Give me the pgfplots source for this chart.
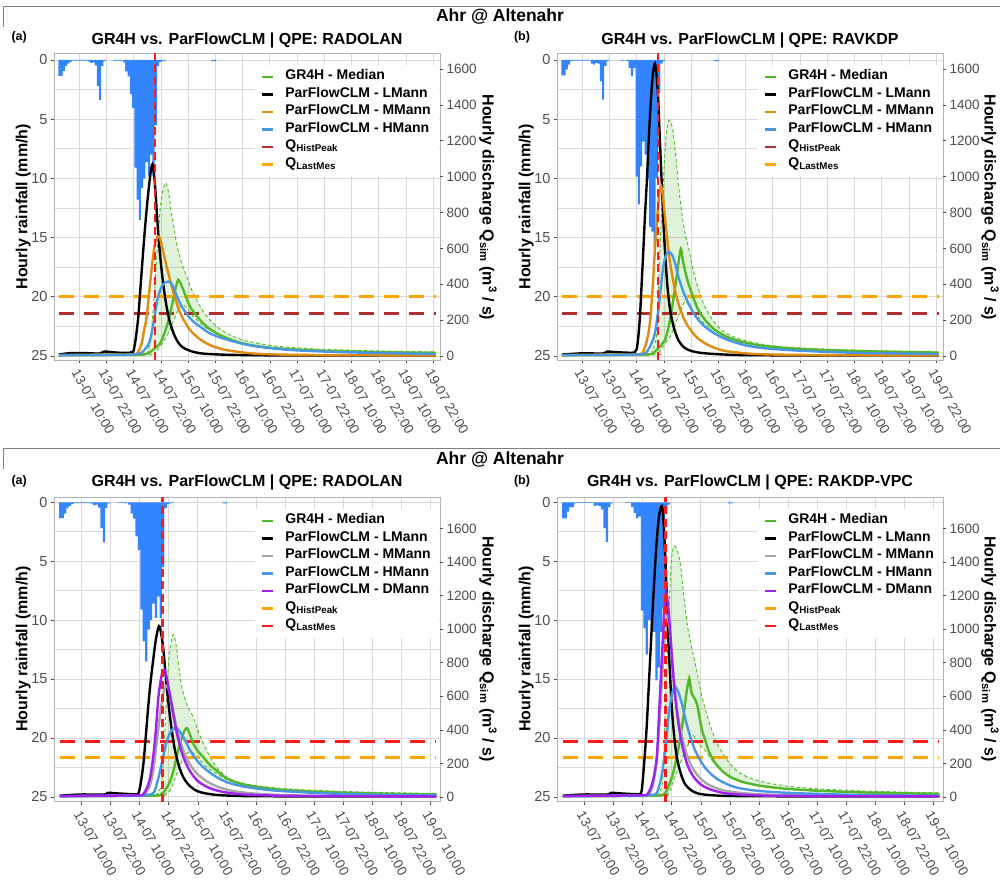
\documentclass[border=0pt]{standalone}
\usepackage{fontspec}
\setmainfont{Liberation Sans}
\usepackage{pgfplots}
\pgfplotsset{compat=1.18}
\definecolor{rainblue}{HTML}{3385FF}
\definecolor{gmed}{HTML}{52B82A}
\definecolor{mmorange}{HTML}{E08A10}
\definecolor{hmblue}{HTML}{4B96E3}
\definecolor{histbrown}{HTML}{B03030}
\definecolor{lastorange}{HTML}{FFA500}
\definecolor{vred}{HTML}{FF1A1A}
\definecolor{dpurple}{HTML}{A020F0}
\definecolor{mgrey}{HTML}{A6A6A6}
\definecolor{gridgray}{HTML}{D9D9D9}
\definecolor{bordergray}{HTML}{B3B3B3}
\definecolor{ticktext}{HTML}{4D4D4D}
\newcommand\tickfont{\fontsize{14.5}{16}\selectfont}
\newcommand\rtickfont{\fontsize{13.5}{15}\selectfont}
\newcommand\xtickfont{\fontsize{13.5}{15}\selectfont}
\newcommand\legfont{\fontsize{14}{16}\selectfont\bfseries}
\newcommand\labfont{\fontsize{16}{18}\selectfont\bfseries}
\pgfplotsset{
 rainaxis/.style={scale only axis, width=386pt, y dir=reverse,
   axis line style={draw=bordergray, line width=0.8pt},
   xmajorgrids, ymajorgrids, yminorgrids,
   major grid style={draw=gridgray, line width=0.9pt},
   minor grid style={draw=gridgray, line width=0.6pt},
   ytick={0,5,10,15,20,25}, minor ytick={2.5,7.5,12.5,17.5,22.5},
   tick align=outside, major tick length=3pt, minor tick length=0pt,
   major tick style={draw=ticktext, line width=0.6pt},
   xtick pos=left, ytick pos=left,
   yticklabel style={font=\tickfont, text=ticktext},
   xticklabel style={font=\xtickfont, text=ticktext, rotate=-60, anchor=north west, inner sep=0pt},
   xticklabel shift=5pt,
   /pgf/number format/assume math mode=true,
 },
 qaxis/.style={scale only axis, width=386pt, hide x axis, ytick pos=right,
   axis line style={draw=none},
   tick align=outside, major tick length=3pt,
   major tick style={draw=ticktext, line width=0.6pt},
   ytick={0,200,...,1600},
   yticklabel style={font=\rtickfont, text=ticktext, /pgf/number format/1000 sep={}},
   /pgf/number format/assume math mode=true,
   legend cell align=left,
   legend image code/.code={\draw[##1, solid, line width=2.6pt] (0pt,0pt) -- (11pt,0pt);},
   legend style={at={(rel axis cs:1,1)}, anchor=north east, xshift=-1pt, yshift=-12pt, fill=white, draw=none,
     inner xsep=6pt, inner ysep=3pt, row sep=0pt, font=\legfont,
     nodes={text height=9.5pt, text depth=4pt, inner ysep=2pt},
     /tikz/every odd column/.append style={column sep=9pt}},
 },
 curve/.style={line width=2.4pt, smooth, tension=0.5, forget plot},
 bound/.style={gmed, line width=0.9pt, dash pattern=on 3.5pt off 2.5pt, smooth, tension=0.5, forget plot},
 ribbon/.style={fill=gmed, fill opacity=0.18, draw=none, smooth, tension=0.5, forget plot},
 hl/.style={line width=2.8pt, dash pattern=on 15pt off 10pt, forget plot},
 vl/.style={vred, line width=2.5pt, dash pattern=on 8pt off 4.5pt, forget plot},
 bars/.style={ybar, bar width=0.92, fill=rainblue, draw=none},
}
\begin{document}
\begin{tikzpicture}
\useasboundingbox (0pt,0pt) rectangle (1000pt,-882pt);
% frames and main titles
\draw[gray, line width=0.8pt] (3pt,-27pt) -- (3pt,-6pt) -- (1000pt,-6pt);
\draw[gray, line width=0.8pt] (3pt,-469pt) -- (3pt,-448pt) -- (1000pt,-448pt);
\node[font=\fontsize{17.5}{20}\selectfont\bfseries] at (500pt,-17pt) {Ahr @ Altenahr};
\node[font=\fontsize{17.5}{20}\selectfont\bfseries] at (500pt,-460pt) {Ahr @ Altenahr};

% ================= TOP LEFT =================
\begin{axis}[rainaxis, at={(54pt,-360pt)}, anchor=south west, height=307pt,
  xmin=-1.15, xmax=168.95, ymin=-0.59, ymax=25.34,
  xtick={10,22,...,166},
  xticklabels={13-07 10:00,13-07 22:00,14-07 10:00,14-07 22:00,15-07 10:00,15-07 22:00,16-07 10:00,16-07 22:00,17-07 10:00,17-07 22:00,18-07 10:00,18-07 22:00,19-07 10:00,19-07 22:00}]
\addplot[bars] coordinates {(1.2,1.35) (2.2,1.35) (3.2,0.95) (4.2,0.5) (5.2,0.3) (6.2,0.15) (7.2,0.06) (8.2,0.06) (9.2,0.06) (10.2,0.06) (11.2,0.06) (12.2,0.06) (13.2,0.06) (14.2,0.12) (15.2,0.25) (16.2,0.2) (17.2,0.45) (18.2,2.2) (19.2,3.4) (20.2,0.5) (21.2,0.1) (25.2,0.05) (26.2,0.05) (27.2,0.05) (28.2,0.1) (29.7,0.2) (30.7,0.96) (31.7,1.38) (32.7,2.9) (33.7,4.05) (34.7,9.1) (35.7,11.8) (36.7,13.5) (37.7,10.8) (38.7,10.0) (39.7,8.6) (40.7,9.8) (41.7,8.0) (42.7,9.8) (43.7,5.5) (44.7,0.5) (45.7,0.15) (46.7,0.1) (47.7,0.05) (68.7,0.1) (69.7,0.1)};
\end{axis}
\begin{axis}[qaxis, at={(54pt,-360pt)}, anchor=south west, height=307pt,
  xmin=-1.15, xmax=168.95, ymin=-22.3, ymax=1689]
\addplot[ribbon] coordinates {(1,5) (38,10) (40,30) (41.2,71) (42.3,220) (43.4,406) (44.5,620) (45.6,816) (46.8,920) (48.2,965) (49.5,900) (50.5,800) (51.4,741) (53,620) (55.1,518) (57.3,443) (59.5,370) (61.7,313) (64.5,250) (67.6,201) (72,150) (77.9,108) (85,80) (95,58) (110,42) (130,32) (150,26) (167,23) (167,12) (130,22) (105,35) (90,52) (82.3,71) (76,95) (70.5,127) (66,155) (61.7,201) (59.5,230) (57.5,265) (55.8,285) (54.5,275) (52.9,238) (50.5,165) (48.5,108) (47,80) (45.6,52) (43,15) (40,6) (1,3)} -- cycle;
\addplot[bound] coordinates {(1,5) (38,10) (40,30) (41.2,71) (42.3,220) (43.4,406) (44.5,620) (45.6,816) (46.8,920) (48.2,965) (49.5,900) (50.5,800) (51.4,741) (53,620) (55.1,518) (57.3,443) (59.5,370) (61.7,313) (64.5,250) (67.6,201) (72,150) (77.9,108) (85,80) (95,58) (110,42) (130,32) (150,26) (167,23)};
\addplot[bound] coordinates {(1,3) (40,6) (43,15) (45.6,52) (47,80) (48.5,108) (50.5,165) (52.9,238) (54.5,275) (55.8,285) (57.5,265) (59.5,230) (61.7,201) (66,155) (70.5,127) (76,95) (82.3,71) (90,52) (105,35) (130,22) (167,12)};
\addplot[hl, lastorange] coordinates {(1.2,332) (167,332)};
\addplot[hl, histbrown] coordinates {(1.2,238) (167,238)};
\addplot[curve, gmed] coordinates {(1,4) (30,6) (38,8) (41,20) (43,40) (45.6,71) (47,110) (48.5,164) (49.6,215) (50.7,275) (51.7,335) (52.6,387) (53.6,425) (54.6,405) (55.8,369) (57.3,320) (58.8,275) (61,235) (63.2,201) (66.5,160) (70.5,127) (75,100) (79.4,80) (85,62) (95,45) (110,33) (130,25) (150,20) (167,17)};
\addplot[curve, black] coordinates {(1,8) (5,15) (10,17) (15,15) (19,14) (21,25) (24,22) (28,18) (32,18) (33.3,22) (34,32) (35,110) (36,220) (37,390) (38,560) (39,720) (40,860) (41,980) (41.7,1045) (42.2,1067) (42.8,1030) (43.5,930) (44.2,790) (45,650) (46,510) (47,400) (48,310) (49,240) (50,185) (52,112) (54,68) (56,45) (60,24) (65,13) (75,7) (90,4) (120,3) (167,3)};
\addplot[curve, mmorange] coordinates {(1,5) (20,8) (34,10) (36,25) (37.5,70) (38.5,140) (39.7,220) (41,380) (42,500) (43,600) (44,655) (44.8,667) (45.7,650) (47,580) (48.5,499) (50.5,400) (52.9,294) (55,225) (58.8,145) (63,95) (67.6,61) (73,38) (79.4,24) (90,11) (110,6) (140,4) (167,3)};
\addplot[curve, hmblue] coordinates {(1,5) (30,7) (36,12) (38,25) (40,55) (41.2,89) (42.5,170) (44.1,294) (45.2,350) (46.3,387) (47.8,410) (49.2,415) (50.8,400) (52.5,350) (54.4,294) (57,240) (60,195) (63.2,164) (67,130) (71,108) (76,88) (82,68) (90,50) (105,32) (130,20) (167,11)};
\addplot[vl] coordinates {(43.4,-22.3) (43.4,1689)};
\addlegendimage{gmed}\addlegendentry{GR4H - Median}
\addlegendimage{black}\addlegendentry{ParFlowCLM - LMann}
\addlegendimage{mmorange}\addlegendentry{ParFlowCLM - MMann}
\addlegendimage{hmblue}\addlegendentry{ParFlowCLM - HMann}
\addlegendimage{histbrown}\addlegendentry{Q\textsubscript{HistPeak}}
\addlegendimage{lastorange}\addlegendentry{Q\textsubscript{LastMes}}
\end{axis}

% ================= TOP RIGHT =================
\begin{axis}[rainaxis, at={(557pt,-360pt)}, anchor=south west, height=307pt,
  xmin=-1.15, xmax=168.95, ymin=-0.59, ymax=25.34,
  xtick={10,22,...,166},
  xticklabels={13-07 10:00,13-07 22:00,14-07 10:00,14-07 22:00,15-07 10:00,15-07 22:00,16-07 10:00,16-07 22:00,17-07 10:00,17-07 22:00,18-07 10:00,18-07 22:00,19-07 10:00,19-07 22:00}]
\addplot[bars] coordinates {(1.2,1.3) (2.2,1.3) (3.2,0.8) (4.2,0.4) (5.2,0.1) (6.2,0.05) (7.2,0.05) (8.2,0.05) (9.2,0.05) (10.2,0.05) (11.2,0.05) (12.2,0.05) (13.2,0.05) (14.2,0.3) (15.2,0.4) (16.2,0.25) (17.2,0.3) (18.2,1.8) (19.2,3.35) (20.2,0.5) (21.2,0.1) (27.2,0.05) (28.2,0.05) (29.9,0.1) (30.9,0.66) (31.9,1.37) (32.9,0.66) (33.9,9.85) (34.9,12.2) (35.9,9.0) (36.9,6.9) (37.9,8.0) (38.9,10.1) (39.9,14.1) (40.9,14.5) (41.9,15.8) (42.9,10.0) (43.9,2.8) (44.9,0.3) (45.9,0.1) (68.7,0.1) (69.7,0.1)};
\end{axis}
\begin{axis}[qaxis, at={(557pt,-360pt)}, anchor=south west, height=307pt,
  xmin=-1.15, xmax=168.95, ymin=-22.3, ymax=1689]
\addplot[ribbon] coordinates {(1,5) (38,10) (40.5,30) (42,70) (42.8,127) (43.5,330) (44.2,592) (45,800) (45.7,965) (46.3,1110) (46.9,1225) (47.6,1290) (48.3,1315) (49.2,1295) (50.1,1244) (51.2,1110) (52.3,965) (53.4,840) (54.5,741) (55.6,665) (56.7,611) (58,530) (59.6,443) (61.8,350) (64,275) (67.5,200) (71.4,145) (76,110) (82,85) (90,64) (100,50) (120,36) (145,28) (167,23) (167,12) (130,20) (105,32) (90,46) (80,65) (74,92) (68.5,127) (64.5,170) (61,220) (58.5,255) (56.5,290) (55.3,303) (53.8,270) (52.3,220) (50.5,160) (48.7,108) (46.3,65) (44,25) (42,6) (1,3)} -- cycle;
\addplot[bound] coordinates {(1,5) (38,10) (40.5,30) (42,70) (42.8,127) (43.5,330) (44.2,592) (45,800) (45.7,965) (46.3,1110) (46.9,1225) (47.6,1290) (48.3,1315) (49.2,1295) (50.1,1244) (51.2,1110) (52.3,965) (53.4,840) (54.5,741) (55.6,665) (56.7,611) (58,530) (59.6,443) (61.8,350) (64,275) (67.5,200) (71.4,145) (76,110) (82,85) (90,64) (100,50) (120,36) (145,28) (167,23)};
\addplot[bound] coordinates {(1,3) (42,6) (44,25) (46.3,65) (48.7,108) (50.5,160) (52.3,220) (53.8,270) (55.3,303) (56.5,290) (58.5,255) (61,220) (64.5,170) (68.5,127) (74,92) (80,65) (90,46) (105,32) (130,20) (167,12)};
\addplot[hl, lastorange] coordinates {(1.2,332) (167,332)};
\addplot[hl, histbrown] coordinates {(1.2,238) (167,238)};
\addplot[curve, gmed] coordinates {(1,4) (30,6) (40,10) (42,25) (44,50) (46.4,89) (48,160) (49.4,257) (50.5,350) (51.6,443) (52.5,530) (53.4,598) (54,560) (54.5,518) (55.6,460) (56.7,406) (58.8,330) (61.1,257) (64.5,195) (68.5,145) (74,105) (80,80) (88,60) (100,44) (120,32) (145,24) (167,19)};
\addplot[curve, black] coordinates {(1,8) (10,15) (19,14) (21,25) (24,22) (32,18) (33.3,25) (34,40) (34.7,110) (35.4,220) (36.1,390) (36.9,592) (37.6,780) (38.4,965) (39.1,1160) (39.8,1337) (40.4,1460) (41,1560) (41.5,1610) (42,1630) (42.5,1590) (43,1520) (43.5,1420) (44.2,1200) (45,965) (45.7,760) (46.4,592) (47.5,390) (48.7,257) (50.3,160) (52.3,89) (54.5,52) (56.7,34) (60,22) (65,14) (75,7) (90,4) (167,3)};
\addplot[curve, mmorange] coordinates {(1,5) (20,8) (35,10) (37,30) (38.5,90) (39.8,183) (41,380) (42,592) (42.8,740) (43.5,853) (44.1,920) (44.7,946) (45.4,900) (46.4,778) (47.5,640) (48.7,518) (50.5,390) (52.3,294) (54.5,215) (56.7,164) (60,110) (64,71) (69,42) (74,26) (85,12) (100,7) (130,4) (167,3)};
\addplot[curve, hmblue] coordinates {(1,5) (30,7) (37,12) (38.5,25) (40.5,70) (42,127) (43.2,230) (44.2,331) (45,430) (45.7,499) (46.8,560) (48.2,580) (49.7,560) (51,510) (52.3,443) (54.5,360) (56.7,294) (60,220) (64,164) (69,120) (74.3,89) (80,66) (86,50) (95,38) (110,27) (130,18) (167,11)};
\addplot[vl] coordinates {(43.4,-22.3) (43.4,1689)};
\addlegendimage{gmed}\addlegendentry{GR4H - Median}
\addlegendimage{black}\addlegendentry{ParFlowCLM - LMann}
\addlegendimage{mmorange}\addlegendentry{ParFlowCLM - MMann}
\addlegendimage{hmblue}\addlegendentry{ParFlowCLM - HMann}
\addlegendimage{histbrown}\addlegendentry{Q\textsubscript{HistPeak}}
\addlegendimage{lastorange}\addlegendentry{Q\textsubscript{LastMes}}
\end{axis}

% ================= BOTTOM LEFT =================
\begin{axis}[rainaxis, at={(54pt,-801.5pt)}, anchor=south west, height=304.5pt,
  xmin=-1.4, xmax=158, ymin=-0.45, ymax=25.39,
  xtick={10,22,...,154},
  xticklabels={13-07 10:00,13-07 22:00,14-07 10:00,14-07 22:00,15-07 10:00,15-07 22:00,16-07 10:00,16-07 22:00,17-07 10:00,17-07 22:00,18-07 10:00,18-07 22:00,19-07 10:00}]
\addplot[bars] coordinates {(1.2,1.35) (2.2,1.35) (3.2,0.95) (4.2,0.5) (5.2,0.3) (6.2,0.15) (7.2,0.06) (8.2,0.06) (9.2,0.06) (10.2,0.06) (11.2,0.06) (12.2,0.06) (13.2,0.06) (14.2,0.12) (15.2,0.25) (16.2,0.2) (17.2,0.45) (18.2,2.2) (19.2,3.4) (20.2,0.5) (21.2,0.1) (25.2,0.05) (26.2,0.05) (27.2,0.05) (28.2,0.1) (29.7,0.2) (30.7,0.96) (31.7,1.38) (32.7,2.9) (33.7,4.05) (34.7,9.1) (35.7,11.8) (36.7,13.5) (37.7,10.8) (38.7,10.0) (39.7,8.6) (40.7,9.8) (41.7,8.0) (42.7,9.8) (43.7,5.5) (44.7,0.5) (45.7,0.15) (46.7,0.1) (47.7,0.05) (68.7,0.1) (69.7,0.1)};
\end{axis}
\begin{axis}[qaxis, at={(54pt,-801.5pt)}, anchor=south west, height=304.5pt,
  xmin=-1.4, xmax=158, ymin=-27, ymax=1787]
\addplot[ribbon] coordinates {(1,5) (38,10) (41,25) (42.3,45) (43.1,76) (43.8,250) (44.5,435) (45.2,620) (45.9,793) (46.9,920) (48,968) (49.3,880) (50.7,713) (52,620) (53.4,554) (54.8,510) (56.2,474) (58.2,390) (60.4,315) (63,240) (65.9,175) (70,118) (75,88) (80,72) (89,56) (100,44) (120,32) (140,25) (156.5,21) (156.5,11) (120,21) (100,34) (85,52) (76,75) (70,105) (66,135) (62,175) (59.5,210) (57,250) (55.5,268) (54,265) (52.1,235) (49.2,135) (46.6,40) (44.5,20) (42,6) (1,3)} -- cycle;
\addplot[bound] coordinates {(1,5) (38,10) (41,25) (42.3,45) (43.1,76) (43.8,250) (44.5,435) (45.2,620) (45.9,793) (46.9,920) (48,968) (49.3,880) (50.7,713) (52,620) (53.4,554) (54.8,510) (56.2,474) (58.2,390) (60.4,315) (63,240) (65.9,175) (70,118) (75,88) (80,72) (89,56) (100,44) (120,32) (140,25) (156.5,21)};
\addplot[bound] coordinates {(1,3) (42,6) (44.5,20) (46.6,40) (49.2,135) (52.1,235) (54,265) (55.5,268) (57,250) (59.5,210) (62,175) (66,135) (70,105) (76,75) (85,52) (100,34) (120,21) (156.5,11)};
\addplot[hl, vred] coordinates {(1,332) (156.5,332)};
\addplot[hl, lastorange] coordinates {(1,236) (156.5,236)};
\addplot[curve, gmed] coordinates {(1,4) (30,6) (40,8) (42.4,12) (44.5,40) (46.6,96) (48,160) (49.2,235) (50.3,300) (51.4,354) (52.5,395) (53.5,410) (54.8,370) (56.2,315) (58.2,270) (60.4,235) (63,190) (65.9,155) (70,110) (75,82) (80,66) (89,48) (100,36) (120,25) (140,18) (156.5,15)};
\addplot[curve, black] coordinates {(1,8) (10,15) (19,14) (21,25) (24,22) (32,16) (33.4,20) (34.4,80) (35.5,195) (36.5,360) (37.6,554) (38.6,700) (39.7,833) (40.8,950) (42,1018) (42.9,970) (43.8,873) (44.8,710) (45.9,554) (47.2,400) (48.6,275) (50.3,180) (52.1,115) (54.5,68) (57.6,36) (61,22) (66,12) (75,6) (90,4) (156.5,3)};
\addplot[curve, mgrey] coordinates {(1,5) (34,10) (36,18) (38,60) (39.5,150) (41,320) (42.3,480) (43.5,600) (44.4,650) (45.2,663) (46.2,630) (47.5,540) (49,430) (50.5,340) (52.3,265) (54.5,200) (57.6,140) (61.5,95) (66,62) (71,40) (77,26) (90,13) (110,7) (156.5,4)};
\addplot[curve, hmblue] coordinates {(1,5) (30,7) (37,12) (39.7,25) (41,75) (42.4,155) (43.5,230) (44.5,295) (45.5,345) (46.6,384) (47.8,405) (49.1,410) (50.5,390) (52.1,354) (53.5,315) (54.9,275) (57.5,220) (60.4,175) (65,125) (70,88) (75,68) (80,55) (90,38) (110,22) (130,14) (156.5,9)};
\addplot[curve, dpurple] coordinates {(1,5) (20,8) (34,10) (35.5,18) (37,55) (38.3,115) (39.4,220) (40.4,354) (41.1,480) (41.7,594) (42.5,680) (43.3,740) (44.2,759) (45.3,700) (46.6,594) (48,480) (49.4,375) (50.8,295) (52.1,235) (54.5,160) (57.6,100) (61.5,62) (66,38) (71,24) (77,15) (90,8) (110,5) (156.5,3)};
\addplot[vl] coordinates {(43.4,-27) (43.4,1787)};
\addlegendimage{gmed}\addlegendentry{GR4H - Median}
\addlegendimage{black}\addlegendentry{ParFlowCLM - LMann}
\addlegendimage{mgrey}\addlegendentry{ParFlowCLM - MMann}
\addlegendimage{hmblue}\addlegendentry{ParFlowCLM - HMann}
\addlegendimage{dpurple}\addlegendentry{ParFlowCLM - DMann}
\addlegendimage{lastorange}\addlegendentry{Q\textsubscript{HistPeak}}
\addlegendimage{vred}\addlegendentry{Q\textsubscript{LastMes}}
\end{axis}

% ================= BOTTOM RIGHT =================
\begin{axis}[rainaxis, at={(557pt,-801.5pt)}, anchor=south west, height=304.5pt,
  xmin=-1.4, xmax=158, ymin=-0.45, ymax=25.39,
  xtick={10,22,...,154},
  xticklabels={13-07 10:00,13-07 22:00,14-07 10:00,14-07 22:00,15-07 10:00,15-07 22:00,16-07 10:00,16-07 22:00,17-07 10:00,17-07 22:00,18-07 10:00,18-07 22:00,19-07 10:00}]
\addplot[bars] coordinates {(1.2,1.36) (2.2,1.36) (3.2,0.8) (4.2,0.4) (5.2,0.4) (6.2,0.1) (7.2,0.05) (8.2,0.05) (9.2,0.05) (10.2,0.05) (11.2,0.05) (12.2,0.05) (13.2,0.05) (14.2,0.3) (15.2,0.25) (16.2,0.3) (17.2,0.6) (18.2,2.2) (19.2,3.35) (20.2,0.4) (21.2,0.1) (27.2,0.05) (28.2,0.05) (29.7,0.4) (30.7,0.9) (31.7,1.36) (32.7,1.2) (33.7,9.2) (34.7,10.7) (35.7,12.9) (36.7,10.0) (37.7,10.7) (38.7,11.0) (39.7,15.1) (40.7,14.0) (41.7,11.0) (42.7,9.0) (43.7,1.0) (44.7,0.2) (69.7,0.1) (70.7,0.1)};
\end{axis}
\begin{axis}[qaxis, at={(557pt,-801.5pt)}, anchor=south west, height=304.5pt,
  xmin=-1.4, xmax=158, ymin=-27, ymax=1787]
\addplot[ribbon] coordinates {(1,5) (38,10) (40.5,25) (42,70) (42.7,250) (43.3,534) (44,800) (44.6,1032) (45.2,1230) (45.7,1391) (46.4,1470) (47.1,1496) (48.3,1470) (49.5,1391) (50.5,1260) (51.5,1131) (52.5,1020) (53.6,932) (54.7,860) (55.7,793) (57,700) (58.5,594) (60.5,490) (62.6,395) (65,310) (68.1,235) (71.5,175) (75,135) (82,95) (92,68) (105,50) (125,36) (145,28) (156.5,25) (156.5,14) (125,24) (105,36) (90,52) (80,75) (72,110) (68,145) (65,180) (62,230) (59.5,280) (57.5,310) (56,330) (55,365) (54,345) (52.9,315) (50.8,250) (48.8,175) (46.8,100) (45,30) (44,20) (42,6) (1,3)} -- cycle;
\addplot[bound] coordinates {(1,5) (38,10) (40.5,25) (42,70) (42.7,250) (43.3,534) (44,800) (44.6,1032) (45.2,1230) (45.7,1391) (46.4,1470) (47.1,1496) (48.3,1470) (49.5,1391) (50.5,1260) (51.5,1131) (52.5,1020) (53.6,932) (54.7,860) (55.7,793) (57,700) (58.5,594) (60.5,490) (62.6,395) (65,310) (68.1,235) (71.5,175) (75,135) (82,95) (92,68) (105,50) (125,36) (145,28) (156.5,25)};
\addplot[bound] coordinates {(1,3) (42,6) (44,20) (45,30) (46.8,100) (48.8,175) (50.8,250) (52.9,315) (54,345) (55,365) (56,330) (57.5,310) (59.5,280) (62,230) (65,180) (68,145) (72,110) (80,75) (90,52) (105,36) (125,24) (156.5,14)};
\addplot[hl, vred] coordinates {(1,332) (156.5,332)};
\addplot[hl, lastorange] coordinates {(1,236) (156.5,236)};
\addplot[curve, gmed, tension=0.3] coordinates {(1,4) (30,6) (40,8) (42.4,12) (44,40) (46,115) (47.5,200) (48.8,295) (50,400) (50.8,474) (51.5,560) (52.2,634) (53.2,707) (53.8,650) (54.3,614) (55.3,590) (56.4,554) (57.5,470) (58.5,395) (60,330) (61.2,275) (63.5,210) (66.8,155) (70,120) (75,90) (82,68) (92,50) (105,38) (125,27) (145,21) (156.5,19)};
\addplot[curve, black] coordinates {(1,8) (10,15) (19,14) (21,25) (24,22) (32,16) (33,20) (33.6,40) (34.3,150) (35,280) (35.7,435) (36.7,720) (37.8,1032) (38.8,1300) (39.8,1530) (40.8,1680) (41.9,1733) (42.6,1640) (43.3,1430) (44,1170) (44.6,932) (45.3,720) (46,534) (47,360) (48.1,235) (49.7,140) (51.5,76) (54,40) (57,20) (62,11) (70,6) (90,4) (156.5,3)};
\addplot[curve, mgrey] coordinates {(1,5) (34,10) (36.5,18) (38,60) (39.3,160) (40.5,350) (41.5,580) (42.5,820) (43.4,1010) (44.2,1080) (45,1020) (46,850) (47.2,660) (48.6,480) (50.2,360) (52,260) (54.3,180) (57.5,115) (61,75) (66,45) (72,28) (85,14) (110,7) (156.5,4)};
\addplot[curve, hmblue] coordinates {(1,5) (30,7) (37,12) (39.5,18) (40.7,60) (41.9,135) (43,250) (44,375) (44.6,470) (45.3,554) (46.3,625) (47.4,657) (48.7,625) (50.2,554) (51.5,470) (52.9,395) (55,300) (57.1,235) (60,170) (64,115) (69,75) (74,52) (82,36) (95,24) (115,15) (135,10) (156.5,8)};
\addplot[curve, dpurple] coordinates {(1,5) (20,8) (34,10) (36,18) (37.5,60) (38.7,130) (39.8,235) (40.5,420) (41.2,634) (41.9,830) (42.6,1032) (43.2,1170) (43.7,1221) (44.4,1150) (45.3,992) (46.3,780) (47.4,594) (48.8,430) (50.2,315) (52,210) (54.3,135) (57.5,80) (61,50) (66,28) (72,16) (85,8) (110,5) (156.5,3)};
\addplot[vl] coordinates {(43.3,-27) (43.3,1787)};
\addlegendimage{gmed}\addlegendentry{GR4H - Median}
\addlegendimage{black}\addlegendentry{ParFlowCLM - LMann}
\addlegendimage{mgrey}\addlegendentry{ParFlowCLM - MMann}
\addlegendimage{hmblue}\addlegendentry{ParFlowCLM - HMann}
\addlegendimage{dpurple}\addlegendentry{ParFlowCLM - DMann}
\addlegendimage{lastorange}\addlegendentry{Q\textsubscript{HistPeak}}
\addlegendimage{vred}\addlegendentry{Q\textsubscript{LastMes}}
\end{axis}

% ================= labels =================
\node[font=\fontsize{12.5}{14}\selectfont\bfseries] at (19.2pt,-37.5pt) {(a)};
\node[font=\fontsize{12.5}{14}\selectfont\bfseries] at (522pt,-37.5pt) {(b)};
\node[font=\fontsize{12.5}{14}\selectfont\bfseries] at (19.2pt,-481pt) {(a)};
\node[font=\fontsize{12.5}{14}\selectfont\bfseries] at (522pt,-481pt) {(b)};
\node[font=\labfont] at (247pt,-40pt) {GR4H vs. ParFlowCLM | QPE: RADOLAN};
\node[font=\labfont] at (750pt,-40pt) {GR4H vs. ParFlowCLM | QPE: RAVKDP};
\node[font=\labfont] at (247pt,-482pt) {GR4H vs. ParFlowCLM | QPE: RADOLAN};
\node[font=\labfont] at (750pt,-482pt) {GR4H vs. ParFlowCLM | QPE: RAKDP-VPC};
\node[font=\labfont, rotate=90] at (23.3pt,-206.7pt) {Hourly rainfall (mm/h)};
\node[font=\labfont, rotate=90] at (526.3pt,-206.7pt) {Hourly rainfall (mm/h)};
\node[font=\labfont, rotate=90] at (23.3pt,-649pt) {Hourly rainfall (mm/h)};
\node[font=\labfont, rotate=90] at (526.3pt,-649pt) {Hourly rainfall (mm/h)};
\node[font=\labfont, rotate=-90] at (488pt,-207.5pt) {Hourly discharge Q\textsubscript{sim} (m\textsuperscript{3} / s)};
\node[font=\labfont, rotate=-90] at (990pt,-207.5pt) {Hourly discharge Q\textsubscript{sim} (m\textsuperscript{3} / s)};
\node[font=\labfont, rotate=-90] at (488pt,-649pt) {Hourly discharge Q\textsubscript{sim} (m\textsuperscript{3} / s)};
\node[font=\labfont, rotate=-90] at (990pt,-649pt) {Hourly discharge Q\textsubscript{sim} (m\textsuperscript{3} / s)};
\end{tikzpicture}
\end{document}
